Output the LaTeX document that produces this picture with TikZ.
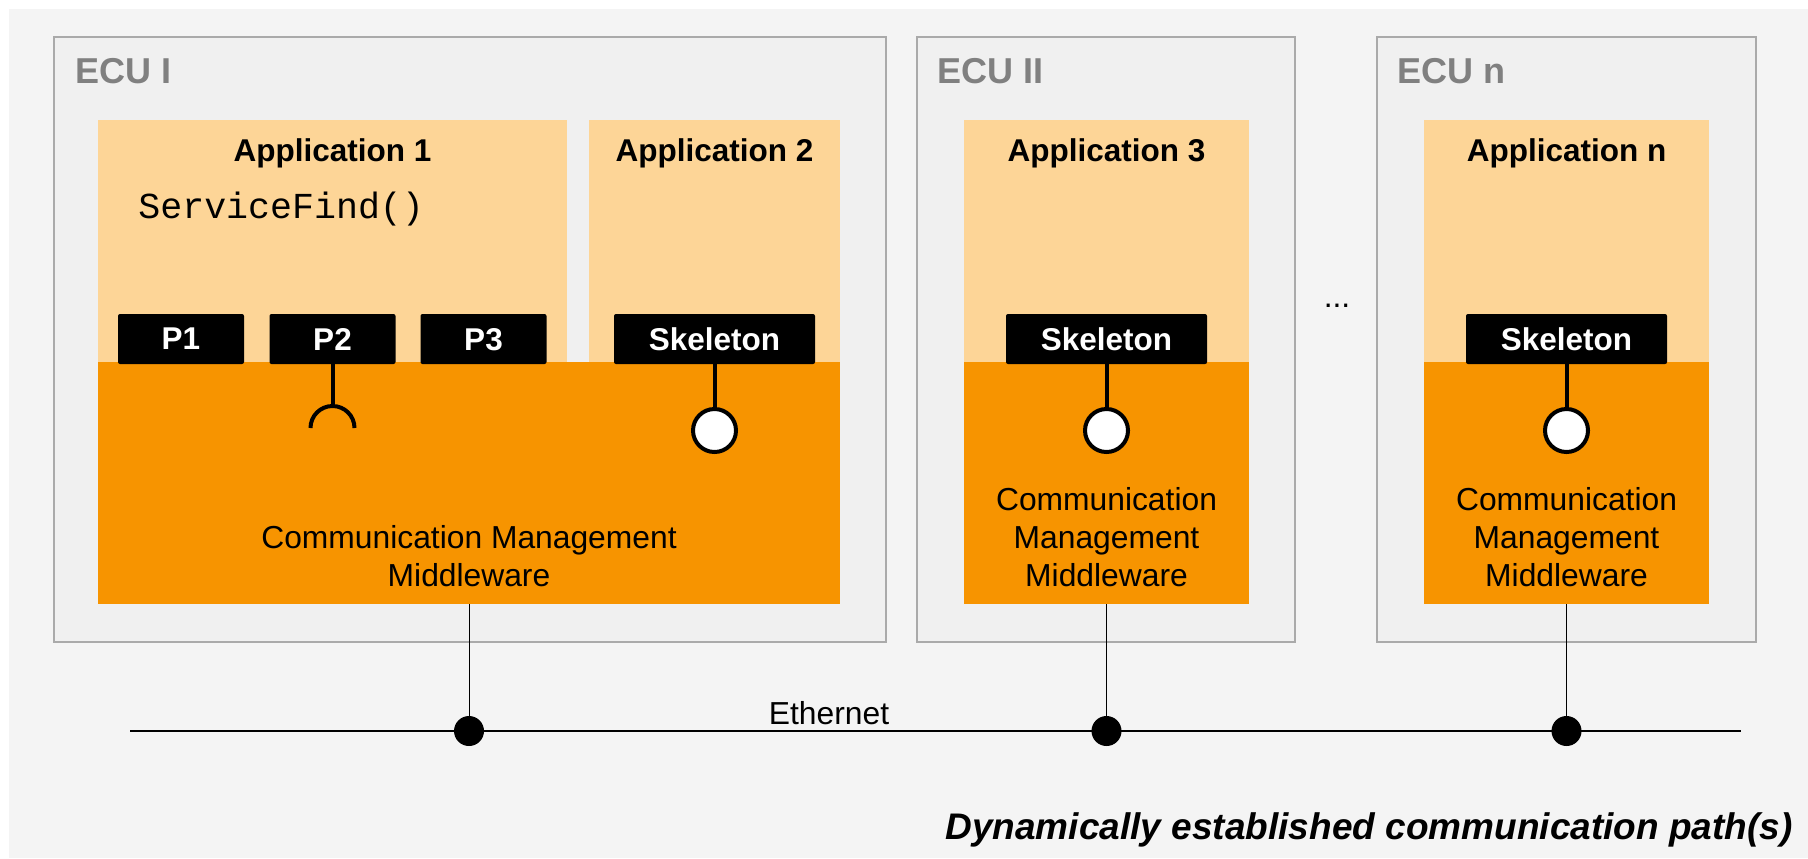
\documentclass[tikz,border=0pt]{standalone}
\usepackage{fontspec}
\setmainfont{Liberation Sans}
\setmonofont{Liberation Mono}
\usetikzlibrary{fit}

\definecolor{bgc}{HTML}{F4F4F4}
\definecolor{ecufill}{HTML}{F0F0F0}
\definecolor{eculine}{HTML}{AAAAAA}
\definecolor{ecutext}{HTML}{808080}
\definecolor{appfill}{HTML}{FDD597}
\definecolor{mwfill}{HTML}{F79400}

\begin{document}
\begin{tikzpicture}[x=0.5pt, y=-0.5pt,
  ecubox/.style={inner sep=0pt, draw=eculine, line width=0.75pt, fill=ecufill},
  appbox/.style={inner sep=0pt, fill=appfill},
  mwbox/.style={inner sep=0pt, fill=mwfill},
  lbl/.style={inner sep=0pt, anchor=base},
  ecutitle/.style={lbl, anchor=base west, text=ecutext, font=\fontsize{18pt}{21pt}\selectfont\bfseries},
  apptitle/.style={lbl, font=\fontsize{15.75pt}{19pt}\selectfont\bfseries},
  mwtext/.style={lbl, align=center, font=\fontsize{15.9pt}{19pt}\selectfont},
  portbox/.style={fill=black, rounded corners=1pt, text=white, inner sep=0pt,
    minimum height=25pt, minimum width=#1, text depth=0pt,
    font=\fontsize{15.75pt}{19pt}\selectfont\bfseries},
  conn/.style={line width=2pt},
  provided/.style={circle, draw=black, line width=2pt, fill=white, inner sep=0pt, minimum size=21.5pt},
  joint/.style={circle, fill=black, inner sep=0pt, minimum size=15pt},
  ethline/.style={line width=1pt},
  drop/.style={line width=0.5pt}
]
\useasboundingbox (0,0) rectangle (1808,858);
\fill[bgc] (9,9) rectangle (1808,858);

% ECU frames
\node[ecubox, fit={(54,37)(886,642)}] (ecu1) {};
\node[ecubox, fit={(917,37)(1295,642)}] (ecu2) {};
\node[ecubox, fit={(1377,37)(1756,642)}] (ecun) {};
\node[ecutitle] (ecu1t) at (75,83) {ECU I};
\node[ecutitle] (ecu2t) at (937,83) {ECU II};
\node[ecutitle] (ecunt) at (1397,83) {ECU n};

% applications
\node[appbox, fit={(98,120)(567,362)}] (app1) {};
\node[appbox, fit={(589,120)(840,362)}] (app2) {};
\node[appbox, fit={(964,120)(1249,362)}] (app3) {};
\node[appbox, fit={(1424,120)(1709,362)}] (appn) {};
\node[apptitle] (app1t) at (332.5,161) {Application 1};
\node[apptitle] (app2t) at (714.5,161) {Application 2};
\node[apptitle] (app3t) at (1106.5,161) {Application 3};
\node[apptitle] (appnt) at (1566.5,161) {Application n};
\node[lbl, anchor=base west, font=\fontsize{18.3pt}{21pt}\selectfont\ttfamily] (find) at (138,218) {ServiceFind()};

% middleware layers (text anchored on the baseline of its last line)
\node[mwbox, fit={(98,362)(840,604)}] (mw1) {};
\node[mwbox, fit={(964,362)(1249,604)}] (mw2) {};
\node[mwbox, fit={(1424,362)(1709,604)}] (mwn) {};
\node[mwtext] (mw1t) at (469,586) {Communication Management\\Middleware};
\node[mwtext] (mw2t) at (1106.5,586.5) {Communication\\Management\\Middleware};
\node[mwtext] (mwnt) at (1566.5,586.5) {Communication\\Management\\Middleware};

% proxies and skeletons
\node[portbox=63pt] (p1) at (181,339) {P1};
\node[portbox=63pt] (p2) at (332.5,339) {P2};
\node[portbox=63pt] (p3) at (483.5,339) {P3};
\node[portbox=100.5pt] (sk1) at (714.5,339) {Skeleton};
\node[portbox=100.5pt] (sk2) at (1106.5,339) {Skeleton};
\node[portbox=100.5pt] (skn) at (1566.5,339) {Skeleton};

% required interface (socket) of P2
\coordinate (sock) at (332.5,406);
\draw[conn] (p2.south) -- (sock);
\draw[conn] (310.5,428) arc[start angle=180, end angle=0, radius=11pt];

% provided interfaces (lollipops)
\node[provided] (c1) at (714.5,430.5) {};
\node[provided] (c2) at (1106.5,430.5) {};
\node[provided] (cn) at (1566.5,430.5) {};
\draw[conn] (sk1.south) -- (c1.north);
\draw[conn] (sk2.south) -- (c2.north);
\draw[conn] (skn.south) -- (cn.north);

\node[lbl, font=\fontsize{15.9pt}{19pt}\selectfont] (more) at (1337,307) {...};

% Ethernet bus
\coordinate (ethL) at (130,731);
\coordinate (ethR) at (1741,731);
\draw[ethline] (ethL) -- (ethR);
\node[joint] (d1) at (469,731) {};
\node[joint] (d2) at (1106.5,731) {};
\node[joint] (dn) at (1566.5,731) {};
\draw[drop] (mw1.south) -- (d1.north);
\draw[drop] (mw2.south) -- (d2.north);
\draw[drop] (mwn.south) -- (dn.north);
\node[lbl, font=\fontsize{15.9pt}{19pt}\selectfont] (eth) at (829,724) {Ethernet};

\node[lbl, anchor=base east, font=\fontsize{18.5pt}{22pt}\selectfont\bfseries\itshape] (path) at (1793,839) {Dynamically established communication path(s)};
\end{tikzpicture}
\end{document}
